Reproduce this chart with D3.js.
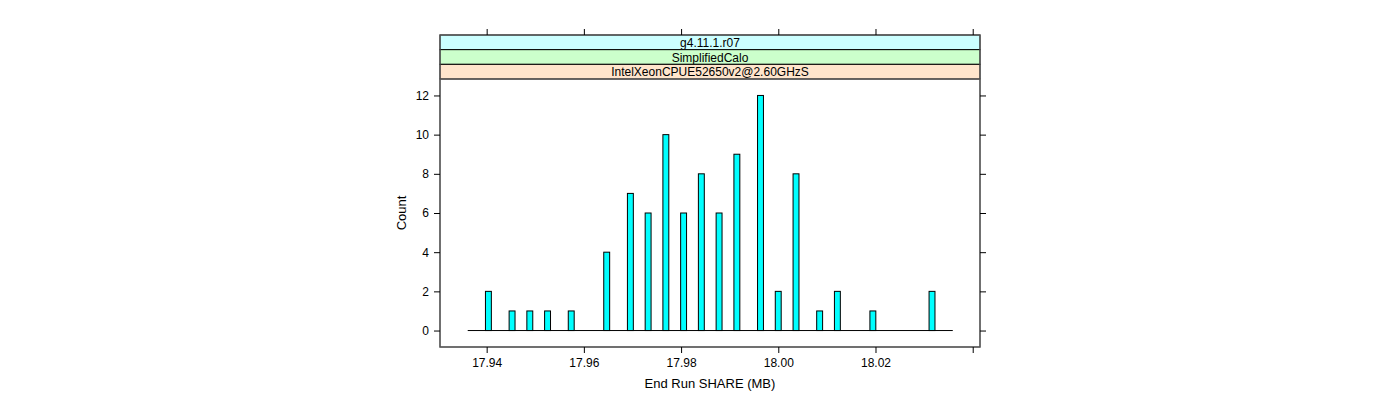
<!DOCTYPE html>
<html><head><meta charset="utf-8">
<script src="https://cdn.jsdelivr.net/npm/d3@7/dist/d3.min.js"></script>
<style>body{margin:0;background:#fff}svg{display:block}text{font-family:"Liberation Sans",Arial,sans-serif;fill:#000}</style>
</head><body><svg id="c" width="1400" height="400"></svg>
<script>
// Data (histogram bins with non-zero counts; lower bin edges in MB)
const binStarts = [17.93975,17.94462,17.94827,17.95192,17.95679,17.96409,17.96896,17.97261,17.97626,17.97991,17.98356,17.98721,17.99087,17.99573,17.99938,18.00304,18.00790,18.01155,18.01885,18.03102];
const counts    = [2,1,1,1,1,4,7,6,10,6,8,6,9,12,2,8,1,2,1,2];
const binWidth = 0.001217;
const histRange = [17.9361, 18.0359];
const xTicks = [17.94, 17.96, 17.98, 18.00, 18.02, 18.04];
const xTickLabels = ["17.94","17.96","17.98","18.00","18.02",""];
const yTicks = [0,2,4,6,8,10,12];
const strips = ["g4.11.1.r07","SimplifiedCalo","IntelXeonCPUE52650v2@2.60GHzS"];
const stripColors = ["#ccffff","#ccffcc","#ffe5cc"];
const xLabel = "End Run SHARE (MB)";
const yLabel = "Count";

(function () {
const svg = d3.select("#c");
const L = 440, R = 980, T = 79, B = 347, stripTop = 35, stripH = (T - stripTop) / 3;
const x = d3.scaleLinear().domain([17.9304, 18.0415]).range([L, R]);
const y = d3.scaleLinear().domain([-0.84, 12.84]).range([B, T]);

// strips
strips.forEach((s, i) => {
  const y0 = stripTop + i * stripH;
  svg.append("rect").attr("x", L).attr("y", y0).attr("width", R - L).attr("height", stripH)
    .attr("fill", stripColors[i]).attr("stroke", "#000").attr("stroke-width", 1);
  svg.append("text").attr("x", (L + R) / 2).attr("y", y0 + stripH / 2 + 4.5)
    .attr("text-anchor", "middle").attr("font-size", 12).text(s);
});

// panel box
svg.append("rect").attr("x", L).attr("y", T).attr("width", R - L).attr("height", B - T)
  .attr("fill", "none").attr("stroke", "#555").attr("stroke-width", 1.2);
svg.append("rect").attr("x", L).attr("y", stripTop).attr("width", R - L).attr("height", B - stripTop)
  .attr("fill", "none").attr("stroke", "#555").attr("stroke-width", 1.2);

// baseline (zero-height bins)
svg.append("line").attr("x1", x(histRange[0])).attr("x2", x(histRange[1]))
  .attr("y1", y(0)).attr("y2", y(0)).attr("stroke", "#000").attr("stroke-width", 1);

// bars
svg.append("g").selectAll("rect").data(binStarts).join("rect")
  .attr("x", d => x(d)).attr("width", d => x(d + binWidth) - x(d))
  .attr("y", (d, i) => y(counts[i])).attr("height", (d, i) => y(0) - y(counts[i]))
  .attr("fill", "#00ffff").attr("stroke", "#000").attr("stroke-width", 1);

// axes
const gBottom = svg.append("g").attr("transform", `translate(0,${B})`)
  .call(d3.axisBottom(x).tickValues(xTicks).tickFormat((d, i) => xTickLabels[i]).tickSize(6).tickPadding(5));
const gTop = svg.append("g").attr("transform", `translate(0,${stripTop})`)
  .call(d3.axisTop(x).tickValues(xTicks).tickFormat("").tickSize(6));
const gLeft = svg.append("g").attr("transform", `translate(${L},0)`)
  .call(d3.axisLeft(y).tickValues(yTicks).tickSize(6).tickPadding(5));
const gRight = svg.append("g").attr("transform", `translate(${R},0)`)
  .call(d3.axisRight(y).tickValues(yTicks).tickFormat("").tickSize(6));
[gBottom, gTop, gLeft, gRight].forEach(g => {
  g.select(".domain").remove();
  g.selectAll("line").attr("stroke", "#000");
  g.selectAll("text").attr("font-size", 12).attr("font-family", '"Liberation Sans",Arial,sans-serif').attr("fill", "#000");
});

svg.append("text").attr("x", (L + R) / 2).attr("y", 388).attr("text-anchor", "middle")
  .attr("font-size", 13).text(xLabel);
svg.append("text").attr("transform", `translate(406,${(T + B) / 2}) rotate(-90)`)
  .attr("text-anchor", "middle").attr("font-size", 13).text(yLabel);
})();
</script></body></html>
